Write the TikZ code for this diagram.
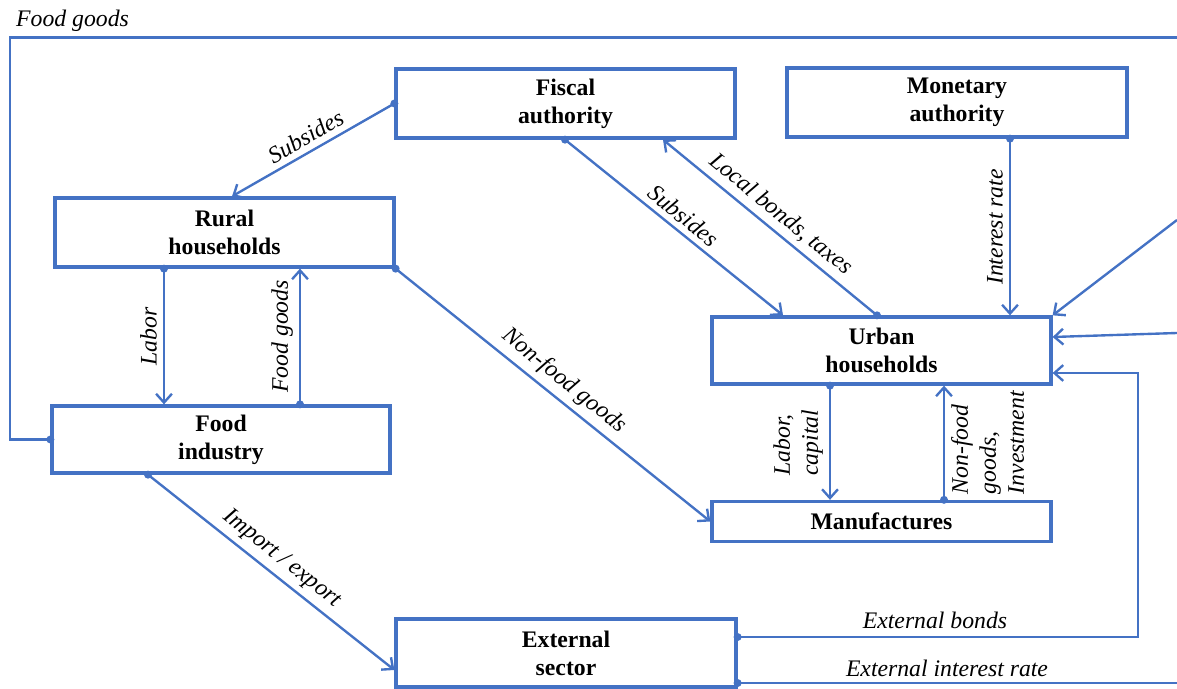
\documentclass[tikz,border=0pt]{standalone}
\usepackage{fontspec}
\setmainfont{Liberation Serif}
\usetikzlibrary{arrows.meta}
\definecolor{lnblue}{HTML}{4472C4}
\begin{document}
\begin{tikzpicture}[x=0.02cm,y=-0.02cm,
  box/.style={draw=lnblue, line width=1.9pt, rectangle, align=center,
    font=\fontsize{13.5}{16}\selectfont\bfseries, inner sep=0pt},
  conn/.style={draw=lnblue, line width=1.35pt, -{Straight Barb[length=5pt,width=9pt,line width=1.35pt]}},
  plainline/.style={draw=lnblue, line width=1.35pt},
  lab/.style={font=\fontsize{13.5}{16}\selectfont\itshape, align=left},
  dotc/.style={fill=lnblue}]
\useasboundingbox (0,0) rectangle (1177,689);

% boxes
\node[box, minimum width=6.78cm, minimum height=1.38cm] (fiscal) at (565.5,103.5) {Fiscal\\authority};
\node[box, minimum width=6.80cm, minimum height=1.38cm] (monetary) at (957,102.5) {Monetary\\authority};
\node[box, minimum width=6.78cm, minimum height=1.38cm] (rural) at (224.5,232.5) {Rural\\households};
\node[box, minimum width=6.78cm, minimum height=1.34cm] (urban) at (881.5,350.5) {Urban\\households};
\node[box, minimum width=6.76cm, minimum height=1.34cm] (food) at (221,439.5) {Food\\industry};
\node[box, minimum width=6.78cm, minimum height=0.80cm] (manuf) at (881.5,521.5) {Manufactures};
\node[box, minimum width=6.80cm, minimum height=1.36cm] (external) at (566,653) {External\\sector};

% free ends at the right edge and corners
\coordinate (tl) at (10,37.5);
\coordinate (tr) at (1177,37.5);
\coordinate (rdiag) at (1177,220);
\coordinate (rmid) at (1177,333);
\coordinate (bcorner) at (1138,373);
\coordinate (rbot) at (1177,683);

% connectors
\draw[conn] (fiscal.west) -- node[lab, sloped, above] {Subsides} (232,0 |- rural.north);
\draw[conn] (565,0 |- fiscal.south) -- node[lab, sloped, above] {Subsides} (783,0 |- urban.north);
\draw[conn] (877,0 |- urban.north) -- node[lab, sloped, above] {Local bonds, taxes} (663,0 |- fiscal.south);
\draw[conn] (1010,0 |- monetary.south) -- node[lab, rotate=90, anchor=south] {Interest rate} (1010,0 |- urban.north);
\draw[conn] (rdiag) -- (urban.north east);
\draw[conn] (rmid) -- (urban.east |- 0,337);
\draw[conn] (external.east |- 0,637) -| (bcorner) -- (urban.east |- 0,373);
\node[lab] (extbonds) at (935,620) {External bonds};
\draw[plainline] (external.east |- 0,683) -- (rbot);
\node[lab] (extrate) at (947,668) {External interest rate};

\draw[conn] (164,0 |- rural.south) -- node[lab, rotate=90, anchor=south] {Labor} (164,0 |- food.north);
\draw[conn] (300,0 |- food.north) -- node[lab, rotate=90, anchor=south] {Food goods} (300,0 |- rural.south);
\draw[conn] (rural.south east) -- node[lab, sloped, above] {Non-food goods} (manuf.west);
\draw[conn] (148,0 |- food.south) -- node[lab, sloped, above] {Import / export} (external.west |- 0,670);
\draw[conn] (830,0 |- urban.south) -- node[lab, rotate=90, anchor=south] {Labor,\\capital} (830,0 |- manuf.north);
\draw[conn] (944,0 |- manuf.north) -- node[lab, rotate=90, anchor=north] {Non-food\\goods,\\Investment} (944,0 |- urban.south);

\draw[plainline] (food.west) -| (tl) -- (tr);
\node[lab, anchor=south west] (topfood) at (tl) {Food goods};

% start dots
\foreach \p in {(fiscal.west), (565,0 |- fiscal.south), (877,0 |- urban.north),
  (1010,0 |- monetary.south), (external.east |- 0,637), (external.east |- 0,683),
  (164,0 |- rural.south), (300,0 |- food.north), (rural.south east),
  (148,0 |- food.south), (830,0 |- urban.south), (944,0 |- manuf.north), (food.west)}
  \fill[dotc] \p circle[radius=0.08cm];
\end{tikzpicture}
\end{document}
